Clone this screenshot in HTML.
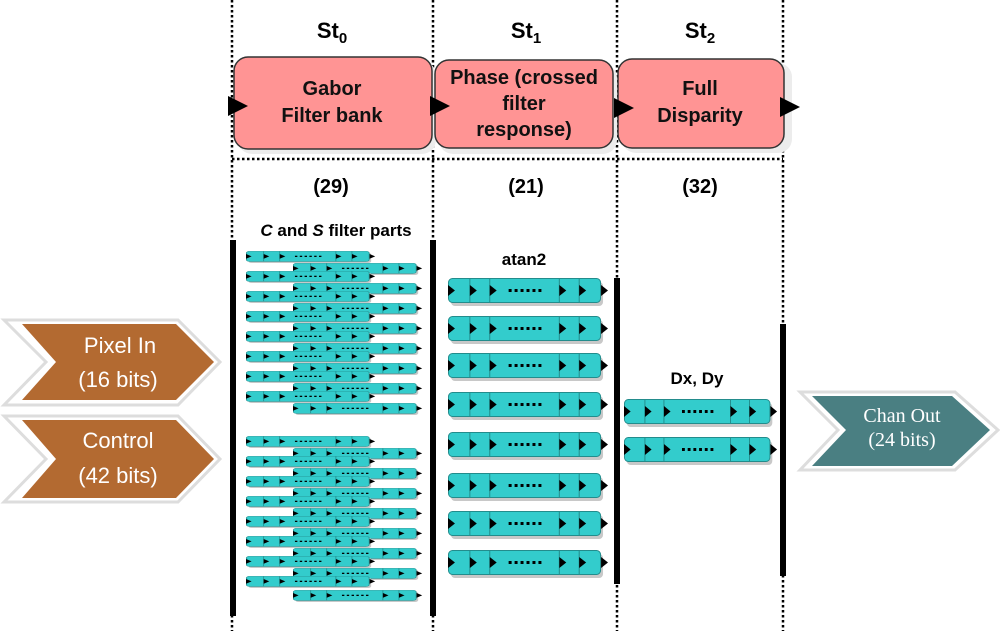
<!DOCTYPE html>
<html><head><meta charset="utf-8"><style>
html,body{margin:0;padding:0;background:#fff;width:1000px;height:631px;overflow:hidden}
text{font-family:"Liberation Sans",Arial,sans-serif}
</style></head><body>
<svg width="1000" height="631" viewBox="0 0 1000 631" xmlns="http://www.w3.org/2000/svg">
<defs>
<symbol id="el" viewBox="0 0 162 28" preserveAspectRatio="none">
  <rect x="3" y="4" width="153" height="24" rx="4" fill="#c8c8c8"/>
  <rect x="0.5" y="0.5" width="153" height="24" rx="4" fill="#33cccc" stroke="#238c8c" stroke-width="1"/>
  <g stroke="#238c8c" stroke-width="1"><line x1="22" y1="1" x2="22" y2="24"/><line x1="42" y1="1" x2="42" y2="24"/><line x1="112" y1="1" x2="112" y2="24"/><line x1="132" y1="1" x2="132" y2="24"/></g>
  <g fill="#000">
    <polygon points="0,7 7,12.5 0,18"/><polygon points="22,7 29,12.5 22,18"/><polygon points="42,7 49,12.5 42,18"/>
    <polygon points="112,7 119,12.5 112,18"/><polygon points="132,7 139,12.5 132,18"/><polygon points="154,7 161,12.5 154,18"/>
    <rect x="61" y="11" width="3" height="3"/><rect x="67" y="11" width="3" height="3"/><rect x="73" y="11" width="3" height="3"/><rect x="79" y="11" width="3" height="3"/><rect x="85" y="11" width="3" height="3"/><rect x="91" y="11" width="3" height="3"/>
  </g>
</symbol>
</defs>

<g stroke="#000" stroke-width="2.5" stroke-dasharray="2.5,2.5">
<line x1="232" y1="0" x2="232" y2="631"/><line x1="433" y1="0" x2="433" y2="631"/>
<line x1="617" y1="0" x2="617" y2="631"/><line x1="783" y1="0" x2="783" y2="631"/>
<line x1="232" y1="159" x2="783" y2="159"/>
</g>

<g font-weight="bold" font-size="22" text-anchor="middle">
<text x="332" y="38">St<tspan font-size="15" dy="5">0</tspan></text>
<text x="526" y="38">St<tspan font-size="15" dy="5">1</tspan></text>
<text x="700" y="38">St<tspan font-size="15" dy="5">2</tspan></text>
</g>

<g>
<rect x="238" y="61" width="198" height="93" rx="14" fill="#ececec"/>
<rect x="234" y="57" width="198" height="92" rx="14" fill="#ff9494" stroke="#333" stroke-width="1.5"/>
<rect x="439" y="64" width="178" height="90" rx="14" fill="#ececec"/>
<rect x="435" y="60" width="178" height="88" rx="14" fill="#ff9494" stroke="#333" stroke-width="1.5"/>
<rect x="622" y="63" width="170" height="90" rx="14" fill="#ececec"/>
<rect x="618" y="59" width="166" height="89" rx="14" fill="#ff9494" stroke="#333" stroke-width="1.5"/>
</g>
<g fill="#000">
<polygon points="228,96 248,106 228,116"/><polygon points="430,96 450,106 430,116"/>
<polygon points="614,98 634,108 614,118"/><polygon points="780,97 800,107 780,117"/>
</g>
<g font-weight="bold" font-size="20" text-anchor="middle" fill="#111">
<text x="332" y="95">Gabor</text><text x="332" y="122">Filter bank</text>
<text x="524" y="84">Phase (crossed</text><text x="524" y="110">filter</text><text x="524" y="136">response)</text>
<text x="700" y="95">Full</text><text x="700" y="122">Disparity</text>
</g>
<g font-weight="bold" font-size="20" text-anchor="middle">
<text x="331" y="193">(29)</text><text x="526" y="193">(21)</text><text x="700" y="193">(32)</text>
</g>
<g font-weight="bold" font-size="17" text-anchor="middle">
<text x="336" y="236"><tspan font-style="italic">C</tspan> and <tspan font-style="italic">S</tspan> filter parts</text>
<text x="524" y="265">atan2</text>
<text x="697" y="384">Dx, Dy</text>
</g>

<g fill="#000">
<rect x="230" y="240" width="6" height="376"/>
<rect x="430" y="240" width="6" height="376"/>
<rect x="614" y="278" width="6" height="306"/>
<rect x="780" y="324" width="6" height="252"/>
</g>

<g>
<use href="#el" x="293" y="263" width="130" height="12"/>
<use href="#el" x="246" y="251" width="130" height="12"/>
<use href="#el" x="293" y="283" width="130" height="12"/>
<use href="#el" x="246" y="271" width="130" height="12"/>
<use href="#el" x="293" y="303" width="130" height="12"/>
<use href="#el" x="246" y="291" width="130" height="12"/>
<use href="#el" x="293" y="323" width="130" height="12"/>
<use href="#el" x="246" y="311" width="130" height="12"/>
<use href="#el" x="293" y="343" width="130" height="12"/>
<use href="#el" x="246" y="331" width="130" height="12"/>
<use href="#el" x="293" y="363" width="130" height="12"/>
<use href="#el" x="246" y="351" width="130" height="12"/>
<use href="#el" x="293" y="383" width="130" height="12"/>
<use href="#el" x="246" y="371" width="130" height="12"/>
<use href="#el" x="293" y="403" width="130" height="12"/>
<use href="#el" x="246" y="391" width="130" height="12"/>

<use href="#el" x="293" y="448" width="130" height="12"/>
<use href="#el" x="246" y="436" width="130" height="12"/>
<use href="#el" x="293" y="468" width="130" height="12"/>
<use href="#el" x="246" y="456" width="130" height="12"/>
<use href="#el" x="293" y="488" width="130" height="12"/>
<use href="#el" x="246" y="476" width="130" height="12"/>
<use href="#el" x="293" y="508" width="130" height="12"/>
<use href="#el" x="246" y="496" width="130" height="12"/>
<use href="#el" x="293" y="528" width="130" height="12"/>
<use href="#el" x="246" y="516" width="130" height="12"/>
<use href="#el" x="293" y="548" width="130" height="12"/>
<use href="#el" x="246" y="536" width="130" height="12"/>
<use href="#el" x="293" y="568" width="130" height="12"/>
<use href="#el" x="246" y="556" width="130" height="12"/>
<use href="#el" x="293" y="590" width="130" height="12"/>
<use href="#el" x="246" y="576" width="130" height="12"/>
</g>

<g>
<use href="#el" x="448" y="278" width="161" height="28"/>
<use href="#el" x="448" y="316" width="161" height="28"/>
<use href="#el" x="448" y="353" width="161" height="28"/>
<use href="#el" x="448" y="392" width="161" height="28"/>
<use href="#el" x="448" y="432" width="161" height="28"/>
<use href="#el" x="448" y="473" width="161" height="28"/>
<use href="#el" x="448" y="511" width="161" height="28"/>
<use href="#el" x="448" y="550" width="161" height="28"/>
</g>
<use href="#el" x="624" y="399" width="154" height="28"/>
<use href="#el" x="624" y="437" width="154" height="28"/>

<g>
<polygon points="4,320 178,320 220,362 178,405 4,405 46,362" fill="#fff" stroke="#ddd" stroke-width="3"/>
<polygon points="22,324 176,324 214,362 176,400 22,400 56,362" fill="#b36a31"/>
<polygon points="4,416 178,416 220,459 178,502 4,502 46,459" fill="#fff" stroke="#ddd" stroke-width="3"/>
<polygon points="22,420 176,420 214,459 176,498 22,498 56,459" fill="#b36a31"/>
<polygon points="800,392 955,392 998,430 955,470 800,470 838,430" fill="#fff" stroke="#ddd" stroke-width="3"/>
<polygon points="812,396 952,396 990,430 952,466 812,466 846,430" fill="#4a7f82"/>
</g>
<g fill="#fff" font-size="22" text-anchor="middle">
<text x="120" y="353">Pixel In</text>
<text x="118" y="387">(16 bits)</text>
<text x="118" y="448">Control</text>
<text x="118" y="483">(42 bits)</text>
<text x="902" y="422" font-size="20" style="font-family:'Liberation Serif',serif">Chan Out</text>
<text x="902" y="446" font-size="20" style="font-family:'Liberation Serif',serif">(24 bits)</text>
</g>
</svg>
</body></html>
